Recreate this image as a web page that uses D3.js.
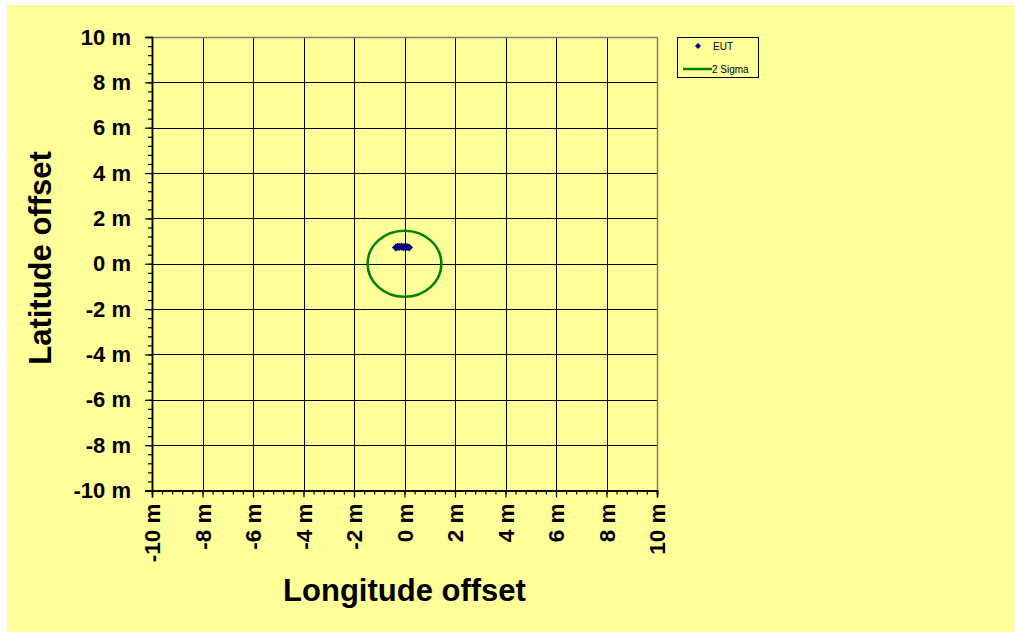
<!DOCTYPE html>
<html>
<head>
<meta charset="utf-8">
<script src="https://cdn.jsdelivr.net/npm/d3@7"></script>
<style>
  html, body { margin: 0; padding: 0; background: #ffffff; }
  svg { display: block; }
  text { font-family: "Liberation Sans", Arial, sans-serif; }
</style>
</head>
<body>
<svg id="chart" width="1015" height="632"></svg>
<script>
// Position fixes of the EUT, metres from the reference point
const eutLon = [-0.34, -0.27, -0.20, -0.12, -0.05, 0.02, 0.10, 0.18];
const eutLat = [0.72, 0.75, 0.74, 0.76, 0.73, 0.75, 0.74, 0.72];
// 2-sigma radius (m) centred on the reference point
const sigmaRadius = [1.46];
// Axis ticks (m)
const majorTicks = [-10, -8, -6, -4, -2, 0, 2, 4, 6, 8, 10];
const minorTicks = d3.range(-50, 51, 2).map(v => v / 5);
const legendLabels = ["EUT", "2 Sigma"];

const svg = d3.select("#chart");
const W = 1015, H = 632;
const FONT = "'Liberation Sans', Arial, sans-serif";

// chart background
svg.append("rect").attr("x", 7).attr("y", 5).attr("width", W - 7).attr("height", H - 5)
  .attr("fill", "#ffff99");

const plot = { left: 152, right: 657, top: 37, bottom: 490.5 };
const x = d3.scaleLinear().domain([-10, 10]).range([plot.left, plot.right]);
const y = d3.scaleLinear().domain([-10, 10]).range([plot.bottom, plot.top]);

// grid
const grid = svg.append("g");
grid.selectAll("line.v").data(majorTicks.slice(1, -1)).join("line")
  .attr("x1", d => Math.round(x(d)) + 0.5).attr("x2", d => Math.round(x(d)) + 0.5)
  .attr("y1", plot.top).attr("y2", plot.bottom)
  .attr("stroke", "#000").attr("stroke-width", 1);
grid.selectAll("line.h").data(majorTicks.slice(1, -1)).join("line")
  .attr("y1", d => Math.round(y(d)) + 0.5).attr("y2", d => Math.round(y(d)) + 0.5)
  .attr("x1", plot.left).attr("x2", plot.right)
  .attr("stroke", "#000").attr("stroke-width", 1);

// plot frame (top/right grey)
svg.append("path")
  .attr("d", `M${plot.left},${plot.top + 0.5}H${plot.right + 0.5}V${plot.bottom}`)
  .attr("fill", "none").attr("stroke", "#808080").attr("stroke-width", 1.5);

// axes
const fmt = d => `${d} m`;
const xAxisMinor = d3.axisBottom(x).tickValues(minorTicks).tickSize(4).tickFormat("");
const yAxisMinor = d3.axisLeft(y).tickValues(minorTicks).tickSize(4).tickFormat("");
const xAxis = d3.axisBottom(x).tickValues(majorTicks).tickSize(7).tickFormat(fmt);
const yAxis = d3.axisLeft(y).tickValues(majorTicks).tickSize(7).tickFormat(fmt);

function styleAxis(g) {
  g.select(".domain").attr("stroke", "#000").attr("stroke-width", 1.5);
  g.selectAll(".tick line").attr("stroke", "#000").attr("stroke-width", 1.2);
}

svg.append("g").attr("transform", `translate(0,${plot.bottom})`).call(xAxisMinor).call(styleAxis);
svg.append("g").attr("transform", `translate(${plot.left},0)`).call(yAxisMinor).call(styleAxis);

const gx = svg.append("g").attr("transform", `translate(0,${plot.bottom})`).call(xAxis).call(styleAxis);
gx.attr("font-family", FONT).attr("font-size", 22.5);
gx.selectAll(".tick text")
  .attr("font-weight", "bold").attr("fill", "#000")
  .attr("text-anchor", "end").attr("dy", "0.35em")
  .attr("transform", "translate(0,13) rotate(-90)")
  .attr("x", 0).attr("y", 0);

const gy = svg.append("g").attr("transform", `translate(${plot.left},0)`).call(yAxis).call(styleAxis);
gy.attr("font-family", FONT).attr("font-size", 22);
gy.selectAll(".tick text")
  .attr("font-weight", "bold").attr("fill", "#000")
  .attr("x", -21);

// axis titles
svg.append("text").attr("x", (plot.left + plot.right) / 2).attr("y", 601)
  .attr("text-anchor", "middle").attr("font-size", 31).attr("font-weight", "bold")
  .text("Longitude offset");
svg.append("text").attr("transform", "translate(51,258) rotate(-90)")
  .attr("text-anchor", "middle").attr("font-size", 31).attr("font-weight", "bold")
  .text("Latitude offset");

// 2-sigma circle
svg.selectAll("ellipse.sigma").data(sigmaRadius).join("ellipse")
  .attr("cx", x(0)).attr("cy", y(0))
  .attr("rx", r => x(r) - x(0)).attr("ry", r => y(0) - y(r))
  .attr("fill", "none").attr("stroke", "#008000").attr("stroke-width", 2.5);

// square-diamond marker of half-diagonal h
const diamondPath = h => `M0,${-h}L${h},0L0,${h}L${-h},0Z`;

// EUT positions
svg.selectAll("path.eut").data(eutLon.map((d, i) => [d, eutLat[i]])).join("path")
  .attr("transform", d => `translate(${x(d[0])},${y(d[1])})`)
  .attr("d", diamondPath(4)).attr("fill", "#000080");

// legend
const lg = svg.append("g").attr("font-family", FONT);
lg.append("rect").attr("x", 677.5).attr("y", 37.5).attr("width", 81).attr("height", 40)
  .attr("fill", "#ffff99").attr("stroke", "#000").attr("stroke-width", 1);
lg.append("path").attr("transform", "translate(698,46)")
  .attr("d", diamondPath(3)).attr("fill", "#000080");
lg.append("line").attr("x1", 683).attr("x2", 712).attr("y1", 69).attr("y2", 69)
  .attr("stroke", "#008000").attr("stroke-width", 2.5);
lg.selectAll("text").data(legendLabels).join("text")
  .attr("x", (d, i) => i === 0 ? 713 : 712).attr("y", (d, i) => i === 0 ? 49.5 : 72.5)
  .attr("font-size", 10).attr("fill", "#000").text(d => d);
</script>
</body>
</html>
